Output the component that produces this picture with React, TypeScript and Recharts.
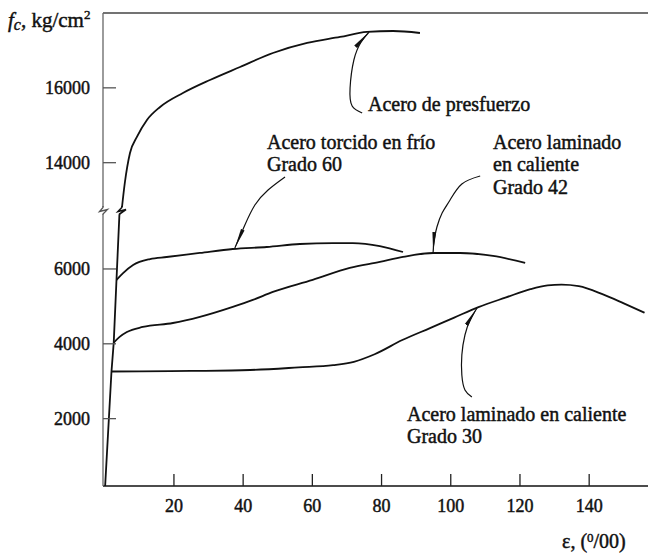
import React from 'react';
import { LineChart, Line, XAxis, YAxis, ReferenceLine } from 'recharts';

// broken stress axis: values above BREAK_LOW are shifted down by BREAK_GAP
const BREAK_LOW = 7573;
const BREAK_GAP = 5160;
const Y_MIN = 200;
const Y_MAX = 18000;
const X_MIN = -0.5;
const X_MAX = 157;

const xTicks = [20, 40, 60, 80, 100, 120, 140];
const yTicks = [2000, 4000, 6000, 14000, 16000];

// [strain (‰), stress (kg/cm²)]
const elastic: [number, number][] = [
  [0, 0], [1.95, 3260], [2.6, 4030], [3.4, 5710], [4.3, 7573],
];
const presfuerzo: [number, number][] = [
  [4.9, 12736], [5.8, 13457], [7.3, 14259], [9.3, 14687], [12.2, 15141], [16, 15489],
  [22.6, 15862], [30.4, 16210], [39.1, 16557], [48.6, 16931], [58.5, 17199], [68, 17359],
  [75.8, 17493], [83.3, 17519], [91.1, 17466],
];
const grado60: [number, number][] = [
  [3.4, 5710], [5.3, 5890], [8.2, 6105], [13.1, 6265], [17.9, 6320], [27.5, 6427],
  [37, 6533], [46.8, 6587], [56.4, 6667], [65.9, 6693], [71.7, 6693], [79.5, 6613], [86.2, 6453],
];
const grado42: [number, number][] = [
  [2.6, 4030], [4.3, 4185], [6.4, 4315], [11, 4450], [19.7, 4556], [27.5, 4720], [37, 4987],
  [42.8, 5173], [48.6, 5387], [60.1, 5707], [70.8, 6027], [79.5, 6187], [86.2, 6320],
  [94.9, 6427], [102.7, 6427], [112.2, 6347], [121.5, 6160],
];
const grado30: [number, number][] = [
  [1.95, 3260], [10, 3262], [25, 3275], [42, 3300], [56, 3370], [66, 3430], [72, 3520],
  [78, 3720], [86, 4100], [94, 4420], [101, 4700], [108, 4980], [116, 5240], [123, 5460],
  [128, 5560], [132, 5580], [137, 5540], [144, 5320], [150, 5080], [156, 4830],
];

// leader (arrow) lines, tail -> tip
const leaderPresfuerzo: [number, number][] = [
  [74.4, 15328], [71.5, 15515], [70.9, 15996], [72.0, 16744], [74.1, 17225], [76.4, 17493],
];
const leader60: [number, number][] = [
  [52.1, 13618], [47.2, 13270], [43.4, 12869], [40.5, 7175], [37.6, 6560],
];
const leader42: [number, number][] = [
  [108.5, 13644], [103.2, 13431], [99.8, 13003], [97.5, 7496], [96, 7121], [95.2, 6774], [94.9, 6453],
];
const leader30: [number, number][] = [
  [106.1, 2578], [104.1, 2765], [103.2, 3166], [103.2, 3701], [104.1, 4235], [105.6, 4636], [107.6, 4957],
];

const toDisplay = (v: number) => (v <= BREAK_LOW ? v : v - BREAK_GAP);
const fromDisplay = (d: number) => (d <= BREAK_LOW ? d : d + BREAK_GAP);
const rows = (pts: [number, number][]) => pts.map(([x, v]) => ({ x, y: toDisplay(v) }));

const FONT = '"Liberation Serif", "Times New Roman", serif';
const INK = '#111';
const inkText = { fontFamily: FONT, fill: INK, stroke: INK, strokeWidth: 0.45 };

const XTick = (props: any) => {
  const { x, payload } = props;
  return (
    <g>
      <line x1={x} x2={x} y1={486} y2={474} stroke="#222" strokeWidth={1.3} />
      <text x={x} y={512} textAnchor="middle" fontSize={18} {...inkText}>
        {payload.value}
      </text>
    </g>
  );
};

const YTick = (props: any) => {
  const { y, payload } = props;
  return (
    <g>
      <line x1={103} x2={116} y1={y} y2={y} stroke="#555" strokeWidth={1.3} />
      <text x={90} y={y + 6.5} textAnchor="end" fontSize={18} {...inkText}>
        {Math.round(fromDisplay(payload.value))}
      </text>
    </g>
  );
};

const curveStyle = { stroke: INK, strokeWidth: 1.8, fill: 'none' };
const leaderStyle = { stroke: INK, strokeWidth: 1.2, fill: 'none' };

const textProps = { fontSize: 20, ...inkText };

export default function App() {
  return (
    <div style={{ position: 'absolute', left: 0, top: 0, width: 648, height: 553, background: '#fff' }}>
      <svg width={0} height={0} style={{ position: 'absolute' }}>
        <defs>
          <marker id="arrowTip" viewBox="0 0 20 6" refX={20} refY={3} markerWidth={20} markerHeight={6}
            markerUnits="userSpaceOnUse" orient="auto">
            <path d="M0,1.1 L20,3 L0,4.9 Z" fill={INK} />
          </marker>
        </defs>
      </svg>
      <LineChart width={648} height={553} margin={{ top: 13, right: 0, bottom: 37, left: 0 }}>
        <XAxis type="number" dataKey="x" domain={[X_MIN, X_MAX]} ticks={xTicks} interval={0}
          allowDataOverflow height={30} tickLine={false}
          axisLine={{ stroke: '#111', strokeWidth: 1.5 }} tick={<XTick />} />
        <YAxis type="number" domain={[Y_MIN, toDisplay(Y_MAX)]} ticks={yTicks.map(toDisplay)} interval={0}
          allowDataOverflow width={103} tickLine={false}
          axisLine={{ stroke: '#666', strokeWidth: 1.3 }} tick={<YTick />} />
        <ReferenceLine y={toDisplay(Y_MAX)} stroke="#444" strokeWidth={1.3} />
        <Line data={rows(elastic)} dataKey="y" type="linear" dot={false} isAnimationActive={false} {...curveStyle} />
        <Line data={rows(presfuerzo)} dataKey="y" type="monotone" dot={false} isAnimationActive={false} {...curveStyle} />
        <Line data={rows(grado60)} dataKey="y" type="monotone" dot={false} isAnimationActive={false} {...curveStyle} />
        <Line data={rows(grado42)} dataKey="y" type="monotone" dot={false} isAnimationActive={false} {...curveStyle} />
        <Line data={rows(grado30)} dataKey="y" type="monotone" dot={false} isAnimationActive={false} {...curveStyle} />
        <Line data={rows(leaderPresfuerzo)} dataKey="y" type="natural" dot={false} isAnimationActive={false}
          markerEnd="url(#arrowTip)" {...leaderStyle} />
        <Line data={rows(leader60)} dataKey="y" type="natural" dot={false} isAnimationActive={false}
          markerEnd="url(#arrowTip)" {...leaderStyle} />
        <Line data={rows(leader42)} dataKey="y" type="natural" dot={false} isAnimationActive={false}
          markerEnd="url(#arrowTip)" {...leaderStyle} />
        <Line data={rows(leader30)} dataKey="y" type="natural" dot={false} isAnimationActive={false}
          markerEnd="url(#arrowTip)" {...leaderStyle} />
      </LineChart>
      <svg width={648} height={553} style={{ position: 'absolute', left: 0, top: 0, pointerEvents: 'none' }}>
        {/* axis break */}
        <rect x={97} y={207} width={31} height={7.5} fill="#fff" />
        <path d="M103,206 L103,207.5 L99.5,211.5 L107.5,209.5 L103,214 L103,215" stroke="#555" strokeWidth={1.3} fill="none" />
        <path d="M121.8,206 L121.8,207.5 L118,211.5 L126,209.5 L119.6,214 L119.6,215" stroke={INK} strokeWidth={1.6} fill="none" />
        {/* axis titles */}
        <text x={8} y={27} fontSize={21} {...inkText}>
          <tspan fontStyle="italic">f</tspan>
          <tspan fontStyle="italic" fontSize={16} dy={3}>c</tspan>
          <tspan dy={-3}>, kg/cm</tspan>
          <tspan fontSize={13} dy={-8}>2</tspan>
        </text>
        <text x={562} y={548} fontSize={20} {...inkText}>
          <tspan>ε, (</tspan>
          <tspan fontSize={13} dy={-6}>0</tspan>
          <tspan dy={6}>/00)</tspan>
        </text>
        {/* curve labels */}
        <text x={368} y={111} {...textProps}>Acero de presfuerzo</text>
        <text x={267} y={149} {...textProps}>Acero torcido en frío</text>
        <text x={267} y={171} {...textProps}>Grado 60</text>
        <text x={493} y={149} {...textProps}>Acero laminado</text>
        <text x={493} y={171} {...textProps}>en caliente</text>
        <text x={493} y={194} {...textProps}>Grado 42</text>
        <text x={407} y={421} {...textProps}>Acero laminado en caliente</text>
        <text x={407} y={443} {...textProps}>Grado 30</text>
      </svg>
    </div>
  );
}
